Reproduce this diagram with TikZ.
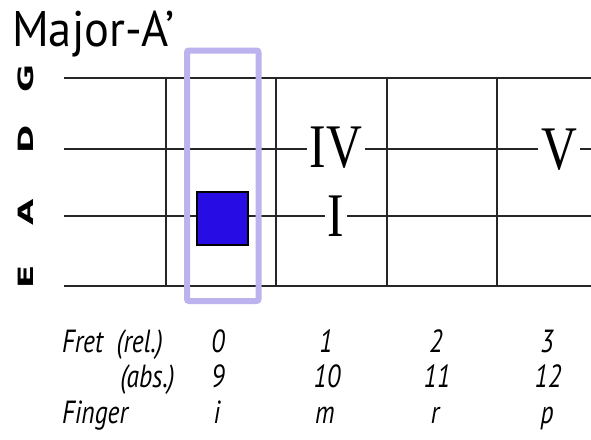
\documentclass[tikz,border=0pt]{standalone}
\usepackage{fontspec}
\setmainfont{PT Sans}
\newfontfamily\numeralfont[FakeStretch=0.8]{Liberation Serif}
\newfontfamily\narrowfont[FakeStretch=0.8]{PT Sans}
\newfontfamily\titlefont[FakeStretch=0.93]{PT Sans}
\newfontfamily\stringfont{DejaVu Sans}
\definecolor{boxblue}{RGB}{40,12,228}
\definecolor{framelilac}{RGB}{187,178,238}

\begin{document}
\begin{tikzpicture}[
  x=1pt, y=-1pt,
  gridline/.style={line width=1.4pt, black!85},
  numeral/.style={fill=white, inner sep=3pt, font=\numeralfont\fontsize{62}{62}\selectfont},
  strlabel/.style={rotate=90, inner sep=0pt, font=\stringfont\bfseries\fontsize{34}{34}\selectfont},
  cell/.style={anchor=base, inner sep=0pt, font=\narrowfont\itshape\fontsize{32}{32}\selectfont},
  rowlabel/.style={cell, anchor=base west}
]
  \useasboundingbox (0,0) rectangle (591,439);

  % title
  \node[anchor=base west, inner sep=0pt, font=\titlefont\fontsize{50}{50}\selectfont] (title) at (12,46) {Major-A’};

  % strings
  \coordinate (gL) at (64,78);  \coordinate (gR) at (591,78);
  \coordinate (dL) at (64,149); \coordinate (dR) at (591,149);
  \coordinate (aL) at (64,216); \coordinate (aR) at (591,216);
  \coordinate (eL) at (64,286); \coordinate (eR) at (591,286);
  \draw[gridline] (gL) -- (gR);
  \draw[gridline] (dL) -- (dR);
  \draw[gridline] (aL) -- (aR);
  \draw[gridline] (eL) -- (eR);

  % frets
  \coordinate (f1t) at (166,78); \coordinate (f1b) at (166,286);
  \coordinate (f2t) at (276,78); \coordinate (f2b) at (276,286);
  \coordinate (f3t) at (387,78); \coordinate (f3b) at (387,286);
  \coordinate (f4t) at (497,78); \coordinate (f4b) at (497,286);
  \draw[gridline] (f1t) -- (f1b);
  \draw[gridline] (f2t) -- (f2b);
  \draw[gridline] (f3t) -- (f3b);
  \draw[gridline] (f4t) -- (f4b);

  % string names
  \node[strlabel] (nameG) at (26,79)  {\scalebox{1}[0.62]{G}};
  \node[strlabel] (nameD) at (26,139) {\scalebox{1}[0.62]{D}};
  \node[strlabel] (nameA) at (26,212) {\scalebox{1}[0.62]{A}};
  \node[strlabel] (nameE) at (26,277) {\scalebox{1}[0.62]{E}};

  % position window and finger
  \node[draw=framelilac, line width=6pt, rounded corners=2pt, minimum width=71.5pt, minimum height=250.5pt] (window) at (222.75,175.75) {};
  \node[draw, fill=boxblue, line width=2pt, minimum width=51pt, minimum height=53pt] (dot) at (222.5,218.5) {};

  % degrees
  \node[numeral] (deg4) at (336,148) {IV};
  \node[numeral] (deg1) at (336,216) {I};
  \node[numeral] (deg5) at (559,150) {V};

  % table
  \node[rowlabel] (relname) at (62,352) {Fret\ \ (rel.)};
  \node[cell, anchor=base east] (absname) at (175,387) {(abs.)};
  \node[rowlabel] (fingname) at (62,423) {Finger};

  \node[cell] (rel0) at (218,352) {0};
  \node[cell] (rel1) at (326,352) {1};
  \node[cell] (rel2) at (436,352) {2};
  \node[cell] (rel3) at (547,352) {3};

  \node[cell] (abs0) at (218,387) {9};
  \node[cell] (abs1) at (327,387) {10};
  \node[cell] (abs2) at (437,387) {11};
  \node[cell] (abs3) at (548,387) {12};

  \node[cell] (fing0) at (217,423) {i};
  \node[cell] (fing1) at (325,423) {m};
  \node[cell] (fing2) at (435,423) {r};
  \node[cell] (fing3) at (547,423) {p};
\end{tikzpicture}
\end{document}
